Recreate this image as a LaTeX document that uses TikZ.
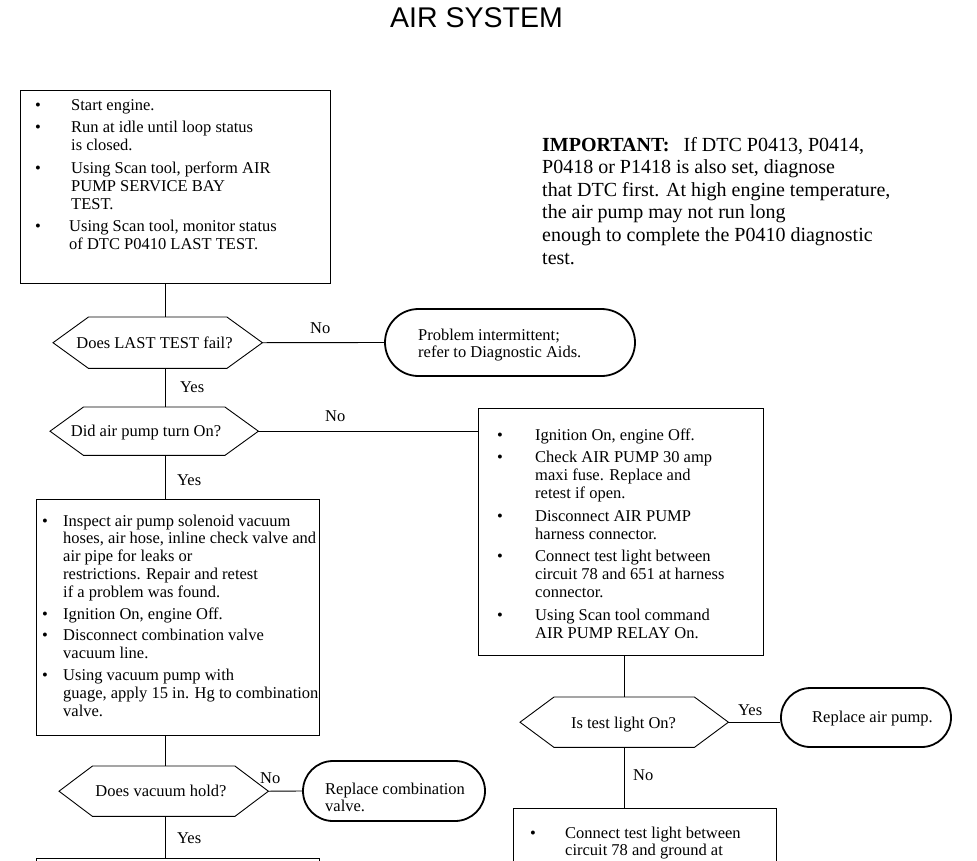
\documentclass[tikz,border=0pt]{standalone}
\usepackage{fontspec}
\setmainfont{Liberation Serif}
\newfontfamily\titlefont{Liberation Sans}
\usetikzlibrary{shapes.misc}
\newcommand\blist[2]{\begin{tabular}[t]{@{}p{#1}@{}l@{}}#2\end{tabular}}
\newcommand\tlines[1]{\begin{tabular}[t]{@{}l@{}}#1\end{tabular}}
\newcommand\hexpath[2]{\draw[hexline] (#1.west) -- ([xshift=#2]#1.north west) -- ([xshift=-#2]#1.north east) -- (#1.east) -- ([xshift=-#2]#1.south east) -- ([xshift=#2]#1.south west) -- cycle;}
\begin{document}
\begin{tikzpicture}[x=1pt,y=-1pt,
  txt/.style={inner sep=0pt, font=\fontsize{16.5}{17.8}\selectfont},
  boxnode/.style={draw, line width=0.9pt, inner sep=0pt, anchor=north west},
  termnode/.style={draw, rounded rectangle, line width=1.8pt, inner sep=0pt, anchor=center},
  hexnode/.style={inner sep=0pt, anchor=north west},
  hexline/.style={line width=0.9pt},
  conn/.style={line width=0.9pt},
  lbl/.style={txt, anchor=base west},
]
\useasboundingbox (0,0) rectangle (977,860);
\clip (0,0) rectangle (977,860);

\coordinate (sp) at (165,0);
\coordinate (sq) at (624,0);

\node[txt, font=\titlefont\fontsize{28.5}{30}\selectfont, anchor=base] (title) at (476.5,27) {AIR SYSTEM};

% first box
\node[boxnode, minimum width=310pt, minimum height=193pt] (b1) at (20,90) {};
\node[txt, anchor=base west] (b1t) at (35,110) {\blist{36pt}{%
\textbullet & Start engine.\\[5pt]
\textbullet & Run at idle until loop status\\
 & is closed.\\[5pt]
\textbullet & Using Scan tool, perform AIR\\
 & PUMP SERVICE BAY\\
 & TEST.\\[5pt]
\textbullet & \hspace{-2pt}Using Scan tool, monitor status\\
 & \hspace{-2pt}of DTC P0410 LAST TEST.}};

% important note
\node[txt, anchor=base west, font=\fontsize{20}{22.6}\selectfont] (imp) at (542,151) {\tlines{%
\textbf{IMPORTANT:}\hspace{14pt}If DTC P0413, P0414,\\
P0418 or P1418 is also set, diagnose\\
that DTC first. At high engine temperature,\\
the air pump may not run long\\
enough to complete the P0410 diagnostic\\
test.}};

% decision 1
\node[hexnode, minimum width=209pt, minimum height=51pt] (h1) at (53,317) {};
\hexpath{h1}{35.5pt}
\node[txt, anchor=base] (h1t) at (154.5,348) {Does LAST TEST fail?};

\node[termnode, minimum width=250pt, minimum height=67pt] (t1) at (510,342.5) {};
\node[txt, anchor=base west] (t1t) at (418,340) {\tlines{Problem intermittent;\\ refer to Diagnostic Aids.}};

% decision 2
\node[hexnode, minimum width=208pt, minimum height=48pt] (h2) at (50,407) {};
\hexpath{h2}{33.5pt}
\node[txt, anchor=base] (h2t) at (146,436) {Did air pump turn On?};

% right box
\node[boxnode, minimum width=285pt, minimum height=247pt] (bR) at (478,408) {};
\node[txt, anchor=base west] (bRt) at (497,440) {\blist{38pt}{%
\textbullet & Ignition On, engine Off.\\[5pt]
\textbullet & Check AIR PUMP 30 amp\\
 & maxi fuse. Replace and\\
 & retest if open.\\[5pt]
\textbullet & Disconnect AIR PUMP\\
 & harness connector.\\[5pt]
\textbullet & Connect test light between\\
 & circuit 78 and 651 at harness\\
 & connector.\\[5pt]
\textbullet & Using Scan tool command\\
 & AIR PUMP RELAY On.}};

% left box 2
\node[boxnode, minimum width=283pt, minimum height=236pt] (b2) at (36,499) {};
\node[txt, anchor=base west] (b2t) at (42,526) {\blist{21pt}{%
\textbullet & Inspect air pump solenoid vacuum\\
 & hoses, air hose, inline check valve and\\
 & air pipe for leaks or\\
 & restrictions. Repair and retest\\
 & if a problem was found.\\[4pt]
\textbullet & Ignition On, engine Off.\\[4pt]
\textbullet & Disconnect combination valve\\
 & vacuum line.\\[4pt]
\textbullet & Using vacuum pump with\\
 & guage, apply 15 in. Hg to combination\\
 & valve.}};

% decision 3
\node[hexnode, minimum width=209pt, minimum height=50pt] (h3) at (59,766) {};
\hexpath{h3}{33.5pt}
\node[txt, anchor=base] (h3t) at (161,796) {Does vacuum hold?};

\node[termnode, minimum width=182pt, minimum height=60pt] (t3) at (394,791) {};
\node[txt, anchor=base west] (t3t) at (325,794) {\tlines{Replace combination\\ valve.}};

% decision 4
\node[hexnode, minimum width=208pt, minimum height=50pt] (h4) at (520,697) {};
\hexpath{h4}{34pt}
\node[txt, anchor=base] (h4t) at (623.5,728) {Is test light On?};

\node[termnode, minimum width=170pt, minimum height=59pt] (t4) at (866,717.5) {};
\node[txt, anchor=base west] (t4t) at (812,722) {Replace air pump.};

% bottom boxes (cut by page edge)
\node[boxnode, minimum width=283pt, minimum height=60pt] (b5) at (36,858) {};
\node[boxnode, minimum width=263pt, minimum height=80pt] (b6) at (513,808) {};
\node[txt, anchor=base west] (b6t) at (530,838) {\blist{35pt}{%
\textbullet & Connect test light between\\
 & circuit 78 and ground at}};

% labels
\node[lbl] (n1) at (310,333) {No};
\node[lbl] (y1) at (180,392.5) {Yes};
\node[lbl] (n2) at (325,421.5) {No};
\node[lbl] (y2) at (177,485.5) {Yes};
\node[lbl] (n3) at (260,783.5) {No};
\node[lbl] (y3) at (177,843.5) {Yes};
\node[lbl] (y4) at (738,715.5) {Yes};
\node[lbl] (n4) at (633,780.5) {No};

% connectors
\draw[conn] (b1.south -| sp) -- (h1.north -| sp);
\draw[conn] (h1.south -| sp) -- (h2.north -| sp);
\draw[conn] (h2.south -| sp) -- (b2.north -| sp);
\draw[conn] (b2.south -| sp) -- (h3.north -| sp);
\draw[conn] (h3.south -| sp) -- (b5.north -| sp);
\draw[conn] (h1.east) -- (t1.west);
\draw[conn] (h2.east) -- (h2.east -| bR.west);
\draw[conn] (h3.east) -- (t3.west);
\draw[conn] (bR.south -| sq) -- (h4.north -| sq);
\draw[conn] (h4.east) -- (h4.east -| t4.west);
\draw[conn] (h4.south -| sq) -- (b6.north -| sq);
\end{tikzpicture}
\end{document}
